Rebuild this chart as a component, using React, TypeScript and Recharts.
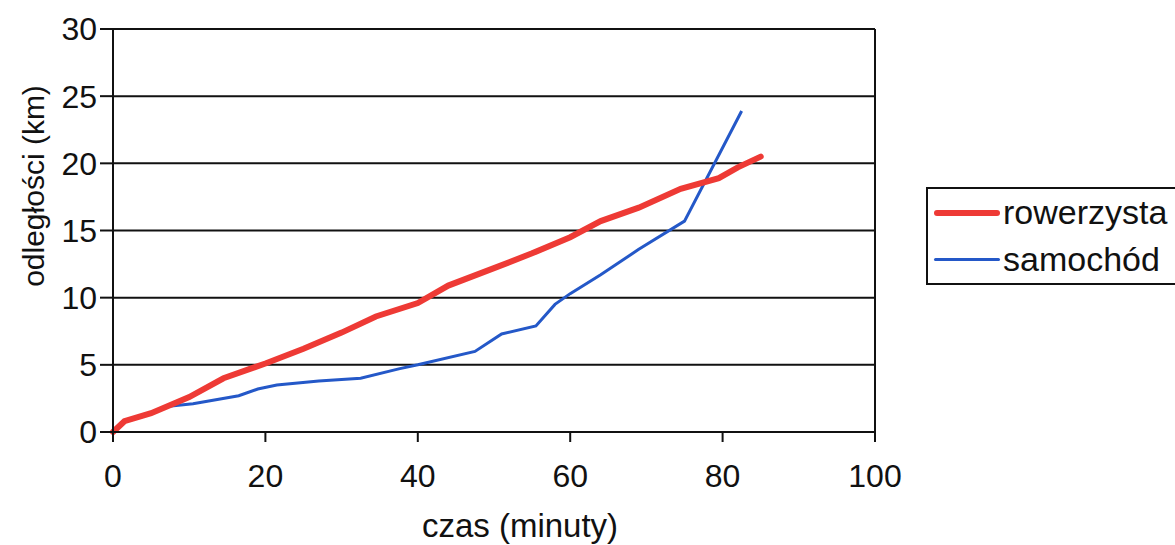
import { CartesianGrid, Legend, Line, LineChart, ReferenceLine, XAxis, YAxis } from "recharts";

const xTicks = [0, 20, 40, 60, 80, 100];
const yTicks = [0, 5, 10, 15, 20, 25, 30];

const rowerzysta = [
  { x: 0, y: 0 },
  { x: 1.5, y: 0.8 },
  { x: 5, y: 1.4 },
  { x: 10, y: 2.6 },
  { x: 14.5, y: 4.0 },
  { x: 20, y: 5.1 },
  { x: 25, y: 6.2 },
  { x: 30, y: 7.4 },
  { x: 34.5, y: 8.6 },
  { x: 40, y: 9.6 },
  { x: 44, y: 10.9 },
  { x: 50, y: 12.2 },
  { x: 55, y: 13.3 },
  { x: 60, y: 14.5 },
  { x: 64, y: 15.7 },
  { x: 69, y: 16.7 },
  { x: 74.5, y: 18.1 },
  { x: 79.5, y: 18.9 },
  { x: 82, y: 19.7 },
  { x: 85, y: 20.5 },
];

const samochod = [
  { x: 0, y: 0 },
  { x: 1.5, y: 0.8 },
  { x: 5, y: 1.4 },
  { x: 7, y: 1.9 },
  { x: 10.5, y: 2.1 },
  { x: 16.5, y: 2.7 },
  { x: 19, y: 3.2 },
  { x: 21.5, y: 3.5 },
  { x: 27, y: 3.8 },
  { x: 32.5, y: 4.0 },
  { x: 37.5, y: 4.7 },
  { x: 40, y: 5.0 },
  { x: 47.5, y: 6.0 },
  { x: 51, y: 7.3 },
  { x: 55.5, y: 7.9 },
  { x: 58, y: 9.5 },
  { x: 60, y: 10.3 },
  { x: 64, y: 11.7 },
  { x: 69, y: 13.6 },
  { x: 75, y: 15.7 },
  { x: 82.5, y: 23.9 },
];

const RED = "#ee3a35";
const BLUE = "#2458c8";
const font = "'Liberation Sans', Arial, sans-serif";

const LegendBox = () => (
  <div
    style={{
      border: "2px solid #111",
      borderRight: "none",
      padding: "0 6px",
      fontFamily: font,
      fontSize: 34,
      color: "#111",
      lineHeight: "47px",
      background: "#fff",
      width: 270,
    }}
  >
    {[
      { name: "rowerzysta", color: RED, w: 6 },
      { name: "samochód", color: BLUE, w: 3 },
    ].map((it) => (
      <div key={it.name} style={{ display: "flex", alignItems: "center" }}>
        <div style={{ width: 66, height: it.w, background: it.color, borderRadius: 3, marginRight: 3 }} />
        <span>{it.name}</span>
      </div>
    ))}
  </div>
);

const YTitle = () => (
  <text
    x={33}
    y={186}
    transform="rotate(-90 33 186)"
    textAnchor="middle"
    dominantBaseline="central"
    fill="#111"
    fontSize={30}
    fontFamily={font}
  >
    odległości (km)
  </text>
);

const XTitle = () => (
  <text x={520} y={537} textAnchor="middle" fill="#111" fontSize={33} fontFamily={font}>
    czas (minuty)
  </text>
);

const App = () => {
  return (
    <div style={{ position: "absolute", left: 0, top: 0, background: "#fff" }}>
      <LineChart width={1175} height={545} margin={{ top: 29, right: 300, bottom: 0, left: 0 }}>
        <CartesianGrid vertical={false} stroke="#111" strokeWidth={2} />
        <XAxis
          type="number"
          dataKey="x"
          domain={[0, 100]}
          ticks={xTicks}
          interval={0}
          height={113}
          stroke="#111"
          strokeWidth={2}
          tickSize={10}
          tickMargin={22}
          tick={{ fill: "#111", fontSize: 32, fontFamily: font }}
          label={{ content: XTitle }}
        />
        <YAxis
          type="number"
          domain={[0, 30]}
          ticks={yTicks}
          interval={0}
          width={113}
          stroke="#111"
          strokeWidth={2}
          tickSize={13}
          tickMargin={3}
          tick={{ fill: "#111", fontSize: 32, fontFamily: font }}
          label={{ content: YTitle }}
        />
        <ReferenceLine x={100} stroke="#111" strokeWidth={2} />
        <Legend
          layout="horizontal"
          align="center"
          verticalAlign="middle"
          content={LegendBox}
          wrapperStyle={{ position: "absolute", left: 926, top: 187, width: 280 }}
        />
        <Line data={samochod} dataKey="y" name="samochód" type="linear" stroke={BLUE} strokeWidth={3} dot={false} isAnimationActive={false} />
        <Line data={rowerzysta} dataKey="y" name="rowerzysta" type="linear" stroke={RED} strokeWidth={6} strokeLinecap="round" dot={false} isAnimationActive={false} />
      </LineChart>
    </div>
  );
};

export default App;
